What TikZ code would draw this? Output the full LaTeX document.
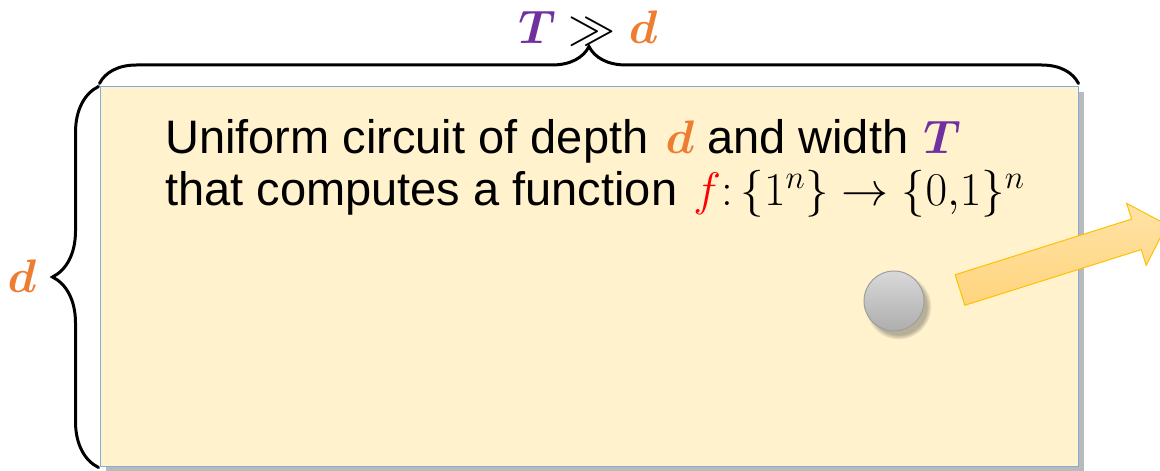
\RequirePackage{fix-cm}
\documentclass[tikz,border=0pt]{standalone}
\usepackage{amsmath}
\usepackage[no-math]{fontspec}
\setmainfont{Liberation Sans}
\usetikzlibrary{decorations.pathreplacing,shadows}
\definecolor{orange}{HTML}{ED7D31}
\definecolor{purple}{HTML}{7030A0}
\definecolor{red}{HTML}{FF0000}
\definecolor{cream}{HTML}{FFF2CC}
\definecolor{frame}{HTML}{7EAEDC}
\definecolor{amber}{HTML}{FFC000}
\definecolor{amberlight}{HTML}{FFE3A6}
\definecolor{amberdeep}{HTML}{FFD47E}

\begin{document}
\begin{tikzpicture}[x=1pt,y=1pt,font=\fontsize{47}{52}\selectfont,
panel/.style={draw=frame,line width=1pt,fill=cream,minimum width=978pt,minimum height=380pt,inner sep=0pt,
 drop shadow={shadow xshift=6pt,shadow yshift=-5pt,opacity=.45,fill=black!60}},
curly/.style={decorate,decoration={brace,amplitude=#1},line width=3pt,line cap=round},
ball/.style={circle,minimum size=60pt,inner sep=0pt,top color=black!15,bottom color=black!32,draw=black!38,line width=1pt,
 circular drop shadow={shadow xshift=4pt,shadow yshift=-5pt,opacity=.4,fill=black!70}},
bigarrow/.style={draw=amber,line width=1pt,top color=amberlight,bottom color=amberdeep}]
 \useasboundingbox (0,0) rectangle (1160,471);
 \node[panel] (panel) at (589,194) {};
 \node[anchor=north west,align=left,inner sep=0pt] (caption) at (165,352)
  {Uniform circuit of depth\hspace{4pt} $\textcolor{orange}{\boldsymbol{d}}$ and width\hspace{2pt} $\textcolor{purple}{\boldsymbol{T}}$\\
   that computes a function\hspace{3pt} $\textcolor{red}{f}\mathpunct{:}\{1^n\}\to\{0{,}1\}^n$};
 \node[ball] (bit) at (894,170) {};
 \coordinate (tail) at (960,181);
 \draw[bigarrow,shift={(tail)},rotate=17.5] (0,-16) -- (185,-16) -- (185,-32.5) -- (217,0) -- (185,32.5) -- (185,16) -- (0,16) -- cycle;
 % braces round the panel
 \draw[curly=37pt] ([yshift=3pt]panel.north west) -- ([yshift=3pt]panel.north east);
 \draw[curly=46pt] ([xshift=-1pt]panel.south west) -- ([xshift=-1pt]panel.north west);
 \node[anchor=base,inner sep=0pt] (gap) at (588,427) {$\textcolor{purple}{\boldsymbol{T}}\gg\textcolor{orange}{\boldsymbol{d}}$};
 \node[anchor=base,inner sep=0pt] (depth) at (22,178) {$\textcolor{orange}{\boldsymbol{d}}$};
\end{tikzpicture}
\end{document}
